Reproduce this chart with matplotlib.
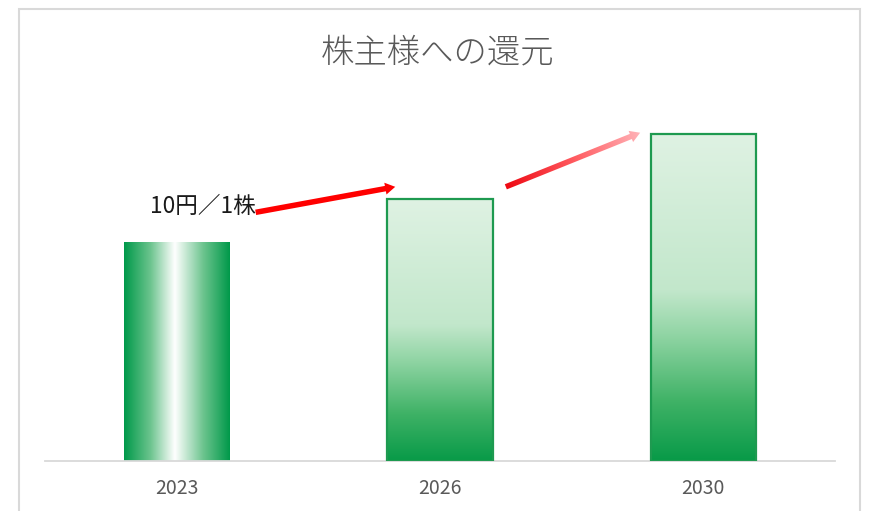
import numpy as np
import matplotlib
matplotlib.use("Agg")
import matplotlib.pyplot as plt
from matplotlib.patches import Rectangle, Polygon
from matplotlib.colors import LinearSegmentedColormap
from matplotlib.transforms import IdentityTransform

plt.rcParams['font.family'] = ['Noto Sans CJK JP', 'DejaVu Sans']

# ---- data ----
categories = ["2023", "2026", "2030"]
values = [10, 12, 15]
title = "株主様への還元"
annotation = "10円／1株"

W, H = 870, 511
fig = plt.figure(figsize=(W / 100, H / 100), dpi=100)
ax = fig.add_axes([45 / W, 1 - 461 / H, 790 / W, 349 / H])
ax.set_xlim(-0.5, 2.5)
ax.set_ylim(0, 16)

bar_w = 0.4
x = np.arange(len(categories))
bars = ax.bar(x, values, width=bar_w, facecolor='none', edgecolor='none', zorder=3)

# horizontal gradient (first bar): green - white - green
cm_h = LinearSegmentedColormap.from_list(
    'h', [(0, '#00994a'), (0.25, '#6cc48e'), (0.48, '#ffffff'), (0.75, '#6cc48e'), (1, '#00994a')])
# vertical gradient (other bars): bottom dark green -> top light green
cm_v = LinearSegmentedColormap.from_list(
    'v', [(0, '#089a48'), (0.18, '#3fb266'), (0.38, '#8fd4a3'), (0.52, '#c2e7cb'), (1, '#dff2e3')])

for i, b in enumerate(bars):
    x0, y0 = b.get_x(), b.get_y()
    w, h = b.get_width(), b.get_height()
    if i == 0:
        grad = np.linspace(0, 1, 256).reshape(1, -1)
        ax.imshow(grad, cmap=cm_h, extent=[x0, x0 + w, y0, y0 + h], aspect='auto',
                  origin='lower', zorder=2, interpolation='bicubic')
    else:
        grad = np.linspace(0, 1, 256).reshape(-1, 1)
        ax.imshow(grad, cmap=cm_v, extent=[x0, x0 + w, y0, y0 + h], aspect='auto',
                  origin='lower', zorder=2, interpolation='bicubic')
        ax.add_patch(Rectangle((x0, y0), w, h, facecolor='none', edgecolor='#1e9a50',
                               linewidth=1.6, zorder=4))

ax.set_xlim(-0.5, 2.5)
ax.set_ylim(0, 16)

# axes styling
for s in ['top', 'right', 'left']:
    ax.spines[s].set_visible(False)
ax.spines['bottom'].set_color('#d9d9d9')
ax.spines['bottom'].set_linewidth(1.3)
ax.set_yticks([])
ax.set_xticks(x)
ax.set_xticklabels(categories, color='#595959', fontsize=14)
ax.tick_params(axis='x', length=0, pad=12)

# title
fig.text(0.503, 1 - 53 / H, title, ha='center', va='center', fontsize=24,
         color='#595959', fontweight='light')

# outer border
fig.patches.append(Rectangle((19 / W, -0.05), (860 - 19) / W, 1.05 - 9 / H,
                             transform=fig.transFigure, facecolor='none',
                             edgecolor='#d9d9d9', linewidth=1.5, zorder=0))

fig.canvas.draw()


def arrow_poly(p0, p1, shaft=5.5, head_w=12, head_l=10):
    p0 = np.asarray(p0, float); p1 = np.asarray(p1, float)
    d = p1 - p0
    L = np.hypot(*d)
    u = d / L
    n = np.array([-u[1], u[0]])
    hb = p1 - u * head_l
    pts = [p0 + n * shaft / 2, hb + n * shaft / 2, hb + n * head_w / 2, p1,
           hb - n * head_w / 2, hb - n * shaft / 2, p0 - n * shaft / 2]
    return np.array(pts)


T = ax.transData
# arrow 1: from right of first bar to left of second bar (solid red)
a1s = T.transform((bars[0].get_x() + bar_w + 0.1, values[0] + 1.4))
a1e = T.transform((bars[1].get_x() + 0.03, values[1] + 0.57))
poly1 = Polygon(arrow_poly(a1s, a1e), closed=True, transform=IdentityTransform(),
                facecolor='#ff0000', edgecolor='none', zorder=5)
fig.patches.append(poly1)

# annotation text, right-aligned at arrow start
ax.text(bars[0].get_x() + bar_w + 0.1, values[0] + 1.65, annotation, ha='right',
        va='center', fontsize=16.3, color='#1a1a1a', zorder=6)

# arrow 2: gradient red -> pink
a2s = T.transform((bars[1].get_x() + bar_w + 0.05, values[1] + 0.57))
a2e = T.transform((bars[2].get_x() - 0.04, values[2] + 0.05))
pts2 = arrow_poly(a2s, a2e)
poly2 = Polygon(pts2, closed=True, transform=IdentityTransform(),
                facecolor='none', edgecolor='none')
fig.patches.append(poly2)
inv = ax.transData.inverted()
dmin = inv.transform(pts2.min(axis=0) - 2)
dmax = inv.transform(pts2.max(axis=0) + 2)
nx, ny = 200, 100
gx = np.linspace(pts2.min(axis=0)[0] - 2, pts2.max(axis=0)[0] + 2, nx)
gy = np.linspace(pts2.min(axis=0)[1] - 2, pts2.max(axis=0)[1] + 2, ny)
GX, GY = np.meshgrid(gx, gy)
d = np.asarray(a2e) - np.asarray(a2s)
tt = ((GX - a2s[0]) * d[0] + (GY - a2s[1]) * d[1]) / (d @ d)
tt = np.clip(tt, 0, 1)
cm_a = LinearSegmentedColormap.from_list('a', ['#ee0a14', '#ff5a5f', '#ffb3b8'])
im = ax.imshow(tt, cmap=cm_a, vmin=0, vmax=1,
               extent=[dmin[0], dmax[0], dmin[1], dmax[1]], origin='lower',
               aspect='auto', zorder=5, interpolation='bilinear')
im.set_clip_path(poly2)
ax.set_xlim(-0.5, 2.5)
ax.set_ylim(0, 16)

fig.savefig('out.png', dpi=100)
